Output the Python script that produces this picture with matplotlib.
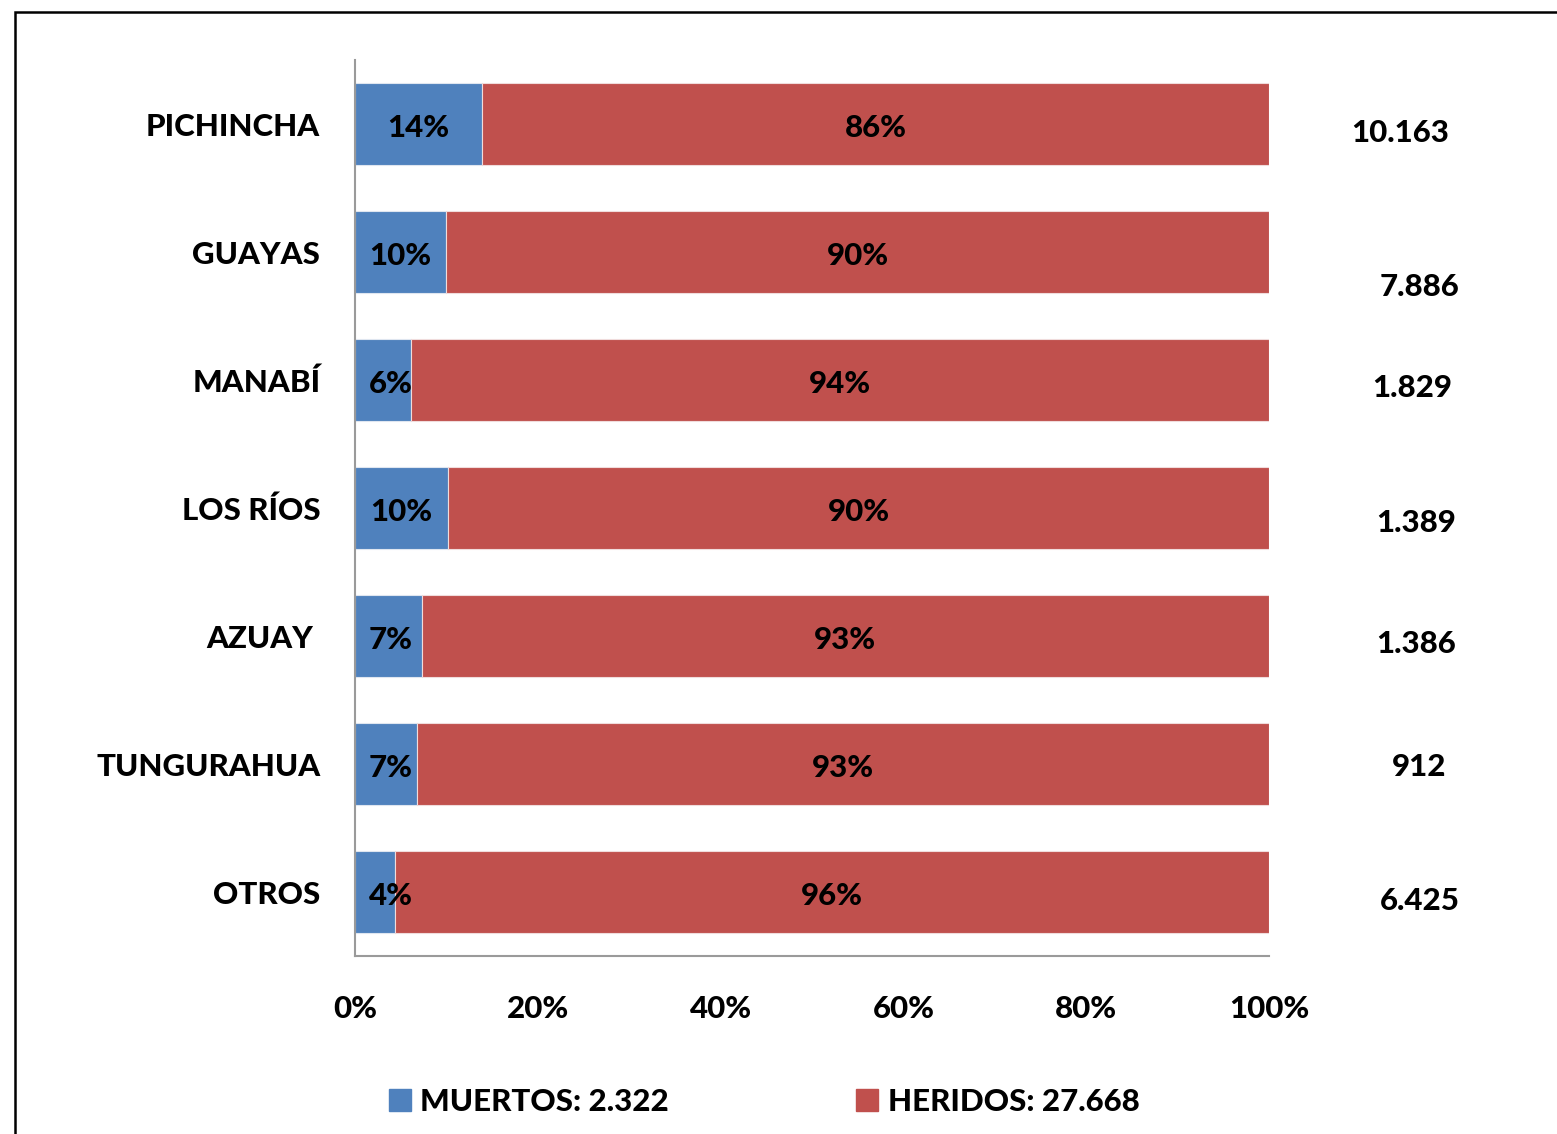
import numpy as np
import matplotlib.pyplot as plt
from matplotlib.patches import Rectangle, Patch

provincias = ["PICHINCHA", "GUAYAS", "MANABÍ", "LOS RÍOS", "AZUAY ", "TUNGURAHUA", "OTROS"]
muertos_pct = [13.9, 10.0, 6.1, 10.2, 7.3, 6.8, 4.4]
heridos_pct = [100 - m for m in muertos_pct]
totales = ["10.163", "7.886", "1.829", "1.389", "1.386", "912", "6.425"]
leyenda = ["MUERTOS: 2.322", "HERIDOS: 27.668"]
ticks = [0, 20, 40, 60, 80, 100]

azul = "#4F81BD"
rojo = "#C0504D"

# small nudges for the total text boxes (they sit a bit off-centre in the original)
tot_dx = [0.0, 2.2, 1.4, 1.8, 1.8, 2.1, 2.2]
tot_dy = [0.07, 0.27, 0.06, 0.12, 0.06, 0.02, 0.07]

plt.rcParams['font.family'] = ['Lato', 'DejaVu Sans']
peso = 900

fig = plt.figure(figsize=(15.57, 11.34), dpi=100)
ax = fig.add_axes([355/1557, 1 - 956/1134, 914/1557, 896/1134])

y = np.arange(len(provincias))
ax.barh(y, muertos_pct, height=0.64, color=azul, edgecolor="#dfe6f0", linewidth=0.8)
ax.barh(y, heridos_pct, left=muertos_pct, height=0.64, color=rojo, edgecolor="#f0dcdc", linewidth=0.8)

fs = 22.5
for i in range(len(provincias)):
    m = muertos_pct[i]
    h = heridos_pct[i]
    ax.text(max(m / 2, 3.9), i + 0.03, f"{round(m)}%", ha="center", va="center",
            fontsize=fs, fontweight=peso, color="black")
    ax.text(m + h / 2, i + 0.03, f"{round(h)}%", ha="center", va="center",
            fontsize=fs, fontweight=peso, color="black")
    ax.text(114.3 + tot_dx[i], i + tot_dy[i], totales[i], ha="center", va="center",
            fontsize=fs, fontweight=peso, color="black", clip_on=False)

ax.set_xlim(0, 100)
ax.set_ylim(len(provincias) - 0.5, -0.5)
ax.set_yticks(y)
ax.set_yticklabels(provincias, fontsize=fs, fontweight=peso)
ax.set_xticks(ticks)
ax.set_xticklabels([f"{t}%" for t in ticks], fontsize=fs, fontweight=peso)
ax.tick_params(axis="y", length=0, pad=25)
ax.tick_params(axis="x", length=0, pad=28)

for s in ["top", "right"]:
    ax.spines[s].set_visible(False)
for s in ["left", "bottom"]:
    ax.spines[s].set_color("#9a9a9a")
    ax.spines[s].set_linewidth(1.5)

# outer frame, cut off at right and bottom like the original
fig.patches.append(Rectangle((15/1557, -0.05), 1.2, 1 - 12/1134 + 0.05,
                             transform=fig.transFigure, fill=False,
                             edgecolor="black", linewidth=1.8))

handles = [Patch(facecolor=azul, edgecolor=azul), Patch(facecolor=rojo, edgecolor=rojo)]
fig.legend(handles, leyenda, loc="center", bbox_to_anchor=(764/1557, 1 - 1102/1134),
           ncol=2, frameon=False, handlelength=0.7, handleheight=0.7,
           handletextpad=0.3, columnspacing=6.0, prop={"weight": peso, "size": fs})

fig.savefig("out.png", dpi=100)
